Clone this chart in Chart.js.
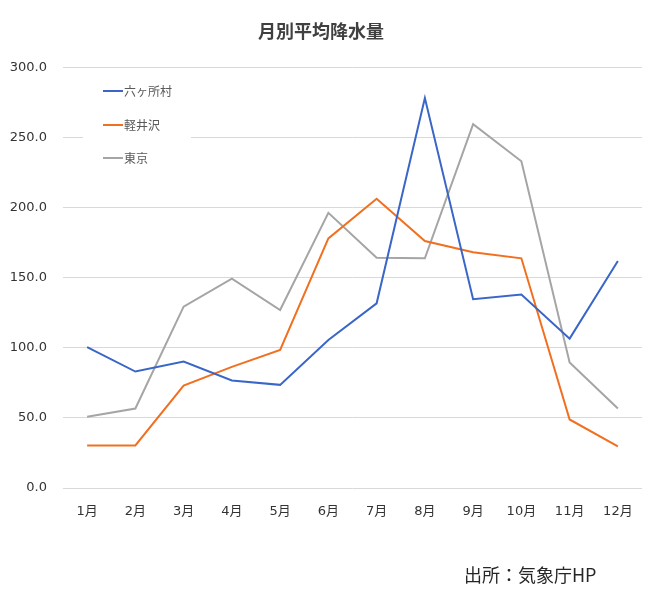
<!DOCTYPE html>
<html>
<head>
<meta charset="utf-8">
<script src="https://cdn.jsdelivr.net/npm/chart.js@4.4.0/dist/chart.umd.min.js"></script>
<style>
html,body{margin:0;padding:0;background:#fff;}
#wrap{width:651px;height:592px;position:relative;}
</style>
</head>
<body>
<div id="wrap"><canvas id="c" width="651" height="592"></canvas></div>
<script>
const months = ["1月","2月","3月","4月","5月","6月","7月","8月","9月","10月","11月","12月"];
const rokkasho = [100.5, 83.1, 90.2, 76.7, 73.6, 105.6, 131.8, 278.3, 134.7, 138.0, 106.6, 162.0];
const karuizawa = [30.4, 30.4, 73.1, 86.4, 98.6, 178.1, 206.4, 176.2, 168.2, 163.9, 48.9, 29.7];
const tokyo = [50.8, 56.7, 129.4, 149.4, 127.0, 196.4, 164.3, 163.9, 259.6, 233.2, 89.5, 56.7];
const seriesNames = ["六ヶ所村", "軽井沢", "東京"];
const chartTitle = "月別平均降水量";
const sourceText = "出所：気象庁HP";

const colors = ["#3a66c8", "#f07020", "#a5a5a5"];
const numFont = "'DejaVu Sans', 'Noto Sans CJK JP', sans-serif";

const insideLegend = {
  id: 'insideLegend',
  beforeDatasetsDraw(chart) {
    const ctx = chart.ctx;
    ctx.save();
    ctx.fillStyle = '#ffffff';
    ctx.fillRect(83, 74, 108, 102);
    const ys = [91, 125, 158];
    chart.data.datasets.forEach((ds, i) => {
      ctx.strokeStyle = ds.borderColor;
      ctx.lineWidth = 2;
      ctx.beginPath();
      ctx.moveTo(103, ys[i]);
      ctx.lineTo(123, ys[i]);
      ctx.stroke();
      ctx.fillStyle = '#595959';
      ctx.font = "12px 'Noto Sans CJK JP', sans-serif";
      ctx.textBaseline = 'middle';
      ctx.textAlign = 'left';
      ctx.fillText(ds.label, 124, ys[i]);
    });
    ctx.restore();
  },
  afterDraw(chart) {
    const ctx = chart.ctx;
    ctx.save();
    ctx.fillStyle = '#262626';
    ctx.font = "18px 'Noto Sans CJK JP', sans-serif";
    ctx.textBaseline = 'middle';
    ctx.textAlign = 'left';
    ctx.fillText(sourceText, 464, 575);
    ctx.restore();
  }
};

new Chart(document.getElementById('c'), {
  type: 'line',
  data: {
    labels: months,
    datasets: [
      { label: seriesNames[0], data: rokkasho, borderColor: colors[0], backgroundColor: colors[0] },
      { label: seriesNames[1], data: karuizawa, borderColor: colors[1], backgroundColor: colors[1] },
      { label: seriesNames[2], data: tokyo, borderColor: colors[2], backgroundColor: colors[2] }
    ]
  },
  options: {
    responsive: false,
    animation: false,
    devicePixelRatio: 1,
    layout: { padding: { left: 0, right: 9, top: 0, bottom: 0 } },
    elements: {
      line: { borderWidth: 2, tension: 0 },
      point: { radius: 0, hoverRadius: 0 }
    },
    plugins: {
      legend: { display: false },
      tooltip: { enabled: false },
      title: {
        display: true,
        text: chartTitle,
        color: '#404040',
        font: { size: 18, weight: 'bold', family: "'Noto Sans CJK JP', sans-serif" },
        padding: { top: 20, bottom: 26 }
      }
    },
    scales: {
      x: {
        offset: true,
        grid: { display: false, drawTicks: false },
        border: { display: false },
        ticks: { color: '#333333', padding: 16, font: { size: 13, family: numFont }, maxRotation: 0, autoSkip: false },
        afterFit(scale) { scale.height = 104; }
      },
      y: {
        min: 0,
        max: 300,
        grid: { color: '#d9d9d9', lineWidth: 1, drawTicks: false },
        border: { display: false },
        ticks: {
          stepSize: 50,
          color: '#333333',
          padding: 16,
          font: { size: 13, family: numFont },
          callback: (v) => Number(v).toFixed(1)
        },
        afterFit(scale) { scale.width = 63; }
      }
    }
  },
  plugins: [insideLegend]
});
</script>
</body>
</html>
